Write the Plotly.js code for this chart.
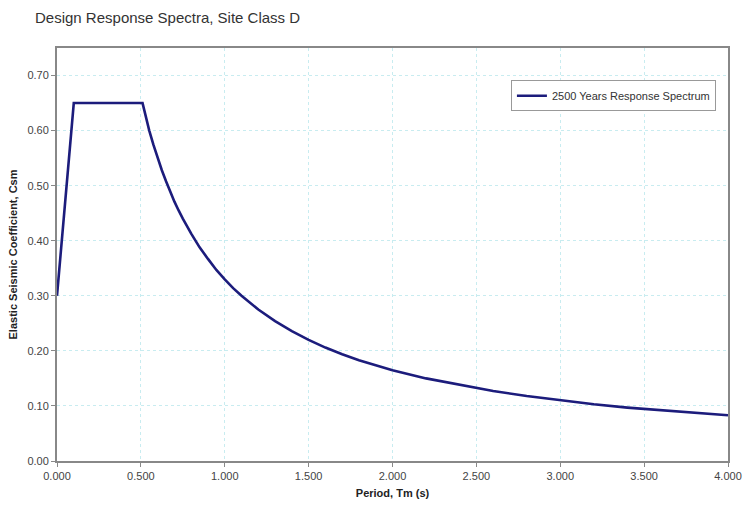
<!DOCTYPE html>
<html>
<head>
<meta charset="utf-8">
<script src="https://cdn.plot.ly/plotly-3.0.1.min.js"></script>
<style>html,body{margin:0;padding:0;background:#fff;}#chart{width:743px;height:508px;}</style>
</head>
<body>
<div id="chart"></div>
<script>
const seriesName = "2500 Years Response Spectrum";
const period = [0.00, 0.10, 0.51, 0.53, 0.55, 0.575, 0.60, 0.625, 0.65, 0.675, 0.70, 0.725, 0.75, 0.80, 0.85, 0.90, 0.95, 1.00, 1.05, 1.10, 1.15, 1.20, 1.30, 1.40, 1.50, 1.60, 1.70, 1.80, 1.90, 2.00, 2.20, 2.40, 2.60, 2.80, 3.00, 3.20, 3.40, 3.60, 3.80, 4.00];
const csm = [0.300, 0.650, 0.650, 0.623, 0.600, 0.574, 0.550, 0.528, 0.508, 0.489, 0.471, 0.455, 0.440, 0.413, 0.388, 0.367, 0.347, 0.330, 0.314, 0.300, 0.287, 0.275, 0.254, 0.236, 0.220, 0.206, 0.194, 0.183, 0.174, 0.165, 0.150, 0.138, 0.127, 0.118, 0.110, 0.103, 0.097, 0.092, 0.087, 0.083];
const chartTitle = "Design Response Spectra, Site Class D";
const xTitle = "Period, Tm (s)";
const yTitle = "Elastic Seismic Coefficient, Csm";

const font = "Arial, 'Liberation Sans', sans-serif";
const gridColor = "#c8ecf0";

Plotly.newPlot("chart", [{
  x: period, y: csm, type: "scatter", mode: "lines", name: seriesName,
  line: {color: "#1c1c7c", width: 2.6}
}], {
  width: 743, height: 508,
  margin: {l: 57, r: 15, t: 48, b: 47},
  paper_bgcolor: "#fff", plot_bgcolor: "#fff",
  font: {family: font, size: 11, color: "#444"},
  title: {text: chartTitle, x: 35/743, xanchor: "left", y: 1 - 18/508, yanchor: "middle",
          font: {family: font, size: 15, color: "#333"}},
  showlegend: true,
  legend: {x: 0.982, xanchor: "right", y: 0.922, yanchor: "top",
           bordercolor: "#999", borderwidth: 1, bgcolor: "#fff",
           font: {family: font, size: 11, color: "#333"},
           tracegroupgap: 0, itemwidth: 30},
  xaxis: {range: [0, 4], dtick: 0.5, tick0: 0, tickformat: ".3f",
          showgrid: true, gridcolor: gridColor, griddash: "3px,3px", gridwidth: 1,
          showline: true, linecolor: "#888", linewidth: 2, mirror: true,
          ticks: "outside", ticklen: 4, tickcolor: "#888", zeroline: false,
          tickfont: {family: font, size: 11, color: "#444"},
          title: {text: "<b>" + xTitle + "</b>", standoff: 8, font: {family: font, size: 11, color: "#222"}}},
  yaxis: {range: [0, 0.75], dtick: 0.1, tick0: 0, tickformat: ".2f",
          showgrid: true, gridcolor: gridColor, griddash: "3px,3px", gridwidth: 1,
          showline: true, linecolor: "#888", linewidth: 2, mirror: true,
          ticks: "outside", ticklen: 4, tickcolor: "#888", zeroline: false,
          tickfont: {family: font, size: 11, color: "#444"},
          title: {text: "<b>" + yTitle + "</b>", standoff: 8, font: {family: font, size: 11, color: "#222"}}}
}, {displayModeBar: false, staticPlot: true});
</script>
</body>
</html>
